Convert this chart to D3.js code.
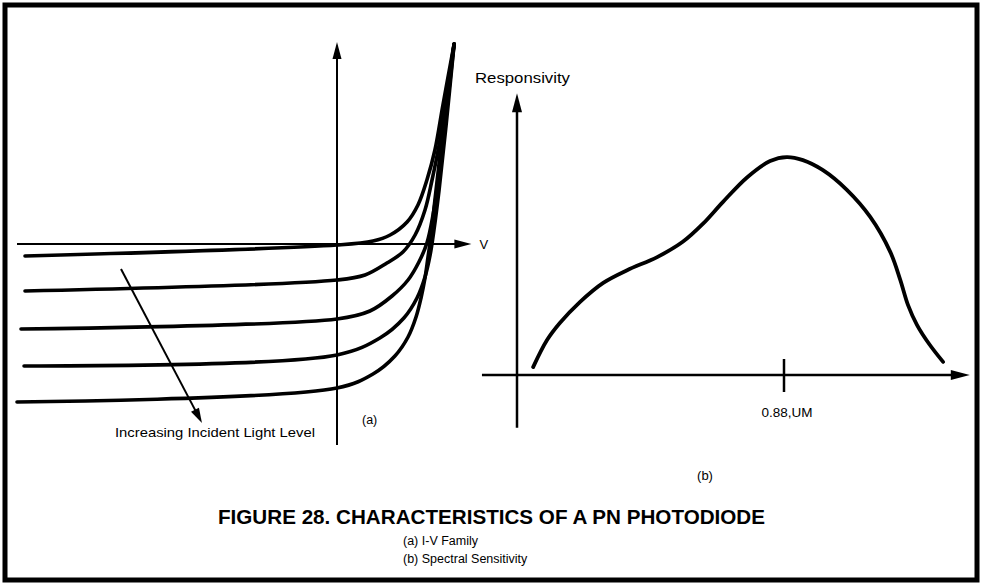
<!DOCTYPE html>
<html>
<head>
<meta charset="utf-8">
<script src="https://cdn.jsdelivr.net/npm/d3@7"></script>
<style>
  html, body { margin: 0; padding: 0; background: #fff; }
  svg { display: block; }
  text { font-family: "Liberation Sans", Arial, Helvetica, sans-serif; fill: #000; }
</style>
</head>
<body>
<svg id="chart" width="982" height="587"></svg>
<script>
// ---- Data: (a) I-V family, points [V, I] ----
const ivDark   = [[-0.975,-0.12],[0,-0.01],[0.1125,0.03],[0.166,0.09],[0.219,0.22],[0.253,0.39],[0.281,0.64],[0.306,0.94],[0.331,1.39],[0.366,2.0]];
const ivLight1 = [[-0.975,-0.47],[0,-0.36],[0.0875,-0.31],[0.156,-0.19],[0.206,-0.08],[0.244,0.09],[0.275,0.34],[0.297,0.64],[0.319,0.99],[0.341,1.44],[0.366,2.0]];
const ivLight2 = [[-0.9875,-0.85],[0,-0.75],[0.103,-0.67],[0.172,-0.52],[0.222,-0.36],[0.256,-0.18],[0.281,0.01],[0.300,0.29],[0.319,0.69],[0.341,1.29],[0.366,2.0]];
const ivLight3 = [[-0.978,-1.22],[0,-1.11],[0.134,-0.94],[0.209,-0.74],[0.250,-0.54],[0.275,-0.33],[0.291,-0.11],[0.303,0.14],[0.319,0.54],[0.341,1.19],[0.366,2.0]];
const ivLight4 = [[-1.0,-1.58],[0,-1.44],[0.1125,-1.30],[0.181,-1.12],[0.222,-0.93],[0.247,-0.73],[0.2625,-0.54],[0.275,-0.34],[0.284,-0.14],[0.294,0.09],[0.306,0.44],[0.322,0.89],[0.344,1.49],[0.366,2.0]];
const ivCurves = [ivDark, ivLight1, ivLight2, ivLight3, ivLight4];
const ivVExtent = [-1.0, 0.42];
const ivIExtent = [-2.01, 2.02];
const lightArrow = [[-0.675,-0.25],[-0.422,-1.79]];

// ---- Data: (b) spectral sensitivity, points [wavelength um, responsivity] ----
const specWavelength = [0.429,0.454,0.477,0.513,0.555,0.598,0.652,0.698,0.734,0.770,0.814,0.855,0.885,0.914,0.950,0.993,1.035,1.071,1.089,1.103,1.119,1.141,1.166];
const specResponse   = [0.018,0.080,0.119,0.167,0.211,0.240,0.270,0.305,0.346,0.396,0.453,0.490,0.499,0.492,0.469,0.424,0.362,0.282,0.218,0.160,0.115,0.071,0.030];
const specXExtent = [0.337, 1.214];
const specYExtent = [-0.121, 0.645];
const specTicks = [0.88];
const specTickLabels = ["0.88,UM"];

// ---- Texts ----
const titleText = "FIGURE 28. CHARACTERISTICS OF A PN PHOTODIODE";
const subTexts = ["(a) I-V Family", "(b) Spectral Sensitivity"];

const svg = d3.select("#chart");
svg.append("rect").attr("width", 982).attr("height", 587).attr("fill", "#fff");
svg.append("rect").attr("x", 5).attr("y", 5).attr("width", 972).attr("height", 575)
  .attr("fill", "none").attr("stroke", "#000").attr("stroke-width", 5);

function arrowHead(g, x, y, dx, dy, len, half) {
  const n = Math.hypot(dx, dy), ux = dx / n, uy = dy / n;
  const bx = x - ux * len, by = y - uy * len;
  const px = -uy * half, py = ux * half;
  g.append("path")
    .attr("d", `M${x},${y}L${bx + px},${by + py}L${bx - px},${by - py}Z`)
    .attr("fill", "#000");
}

// ---------- Panel (a) ----------
const xL = d3.scaleLinear().domain([-1, 0]).range([17, 337]);
const yL = d3.scaleLinear().domain([-2, 2]).range([444, 44]);
const gA = svg.append("g");

gA.append("line").attr("x1", xL(ivVExtent[0])).attr("x2", xL(ivVExtent[1]) - 10)
  .attr("y1", yL(0)).attr("y2", yL(0)).attr("stroke", "#000").attr("stroke-width", 2);
arrowHead(gA, xL(ivVExtent[1]), yL(0), 1, 0, 17, 4.5);
gA.append("line").attr("x1", xL(0)).attr("x2", xL(0))
  .attr("y1", yL(ivIExtent[0])).attr("y2", yL(ivIExtent[1]) + 10)
  .attr("stroke", "#000").attr("stroke-width", 2);
arrowHead(gA, xL(0), yL(ivIExtent[1]), 0, -1, 17, 4.5);

const lineL = d3.line().x(d => xL(d[0])).y(d => yL(d[1])).curve(d3.curveCatmullRom.alpha(0.5));
gA.selectAll("path.iv").data(ivCurves).join("path").attr("class", "iv")
  .attr("d", lineL).attr("fill", "none").attr("stroke", "#000")
  .attr("stroke-width", 3.6).attr("stroke-linecap", "round").attr("stroke-linejoin", "round");

const la0 = lightArrow[0], la1 = lightArrow[1];
const ax0 = xL(la0[0]), ay0 = yL(la0[1]), ax1 = xL(la1[0]), ay1 = yL(la1[1]);
const an = Math.hypot(ax1 - ax0, ay1 - ay0);
gA.append("line").attr("x1", ax0).attr("y1", ay0)
  .attr("x2", ax1 - (ax1 - ax0) / an * 10).attr("y2", ay1 - (ay1 - ay0) / an * 10)
  .attr("stroke", "#000").attr("stroke-width", 2);
arrowHead(gA, ax1, ay1, ax1 - ax0, ay1 - ay0, 15, 4.5);

gA.append("text").attr("x", xL(ivVExtent[1]) + 8).attr("y", yL(0) + 5)
  .attr("font-size", 13).text("V");
gA.append("text").attr("x", 115).attr("y", 437).attr("font-size", 13)
  .attr("textLength", 200).attr("lengthAdjust", "spacingAndGlyphs")
  .text("Increasing Incident Light Level");
gA.append("text").attr("x", 362).attr("y", 424).attr("font-size", 12.5).text("(a)");

// ---------- Panel (b) ----------
const xR = d3.scaleLinear().domain([0.4, 0.88]).range([517, 784]);
const yR = d3.scaleLinear().domain([0, 0.6]).range([375, 113]);
const gB = svg.append("g");

gB.append("line").attr("x1", xR(specXExtent[0])).attr("x2", xR(specXExtent[1]) - 10)
  .attr("y1", yR(0)).attr("y2", yR(0)).attr("stroke", "#000").attr("stroke-width", 2.5);
arrowHead(gB, xR(specXExtent[1]), yR(0), 1, 0, 19, 5);
gB.append("line").attr("x1", xR(0.4)).attr("x2", xR(0.4))
  .attr("y1", yR(specYExtent[0])).attr("y2", yR(specYExtent[1]) + 10)
  .attr("stroke", "#000").attr("stroke-width", 2.5);
arrowHead(gB, xR(0.4), yR(specYExtent[1]), 0, -1, 19, 5);

specTicks.forEach((t, i) => {
  gB.append("line").attr("x1", xR(t)).attr("x2", xR(t))
    .attr("y1", yR(0) - 16).attr("y2", yR(0) + 17)
    .attr("stroke", "#000").attr("stroke-width", 2.5);
  gB.append("text").attr("x", xR(t) + 3).attr("y", yR(0) + 42)
    .attr("text-anchor", "middle").attr("font-size", 13.5).text(specTickLabels[i]);
});

const specData = specWavelength.map((w, i) => [w, specResponse[i]]);
const lineR = d3.line().x(d => xR(d[0])).y(d => yR(d[1])).curve(d3.curveCatmullRom.alpha(0.5));
gB.append("path").datum(specData).attr("d", lineR).attr("fill", "none")
  .attr("stroke", "#000").attr("stroke-width", 3.8)
  .attr("stroke-linecap", "round").attr("stroke-linejoin", "round");

gB.append("text").attr("x", 475).attr("y", 83).attr("font-size", 15.5)
  .attr("textLength", 95).attr("lengthAdjust", "spacingAndGlyphs").text("Responsivity");
gB.append("text").attr("x", 705).attr("y", 480).attr("text-anchor", "middle")
  .attr("font-size", 13).text("(b)");

// ---------- Caption ----------
svg.append("text").attr("x", 218).attr("y", 524).attr("font-size", 19.5)
  .attr("font-weight", "bold").attr("textLength", 547).attr("lengthAdjust", "spacingAndGlyphs")
  .text(titleText);
svg.selectAll("text.sub").data(subTexts).join("text").attr("class", "sub")
  .attr("x", 403).attr("y", (d, i) => 545 + i * 18).attr("font-size", 12.5)
  .text(d => d);
</script>
</body>
</html>
